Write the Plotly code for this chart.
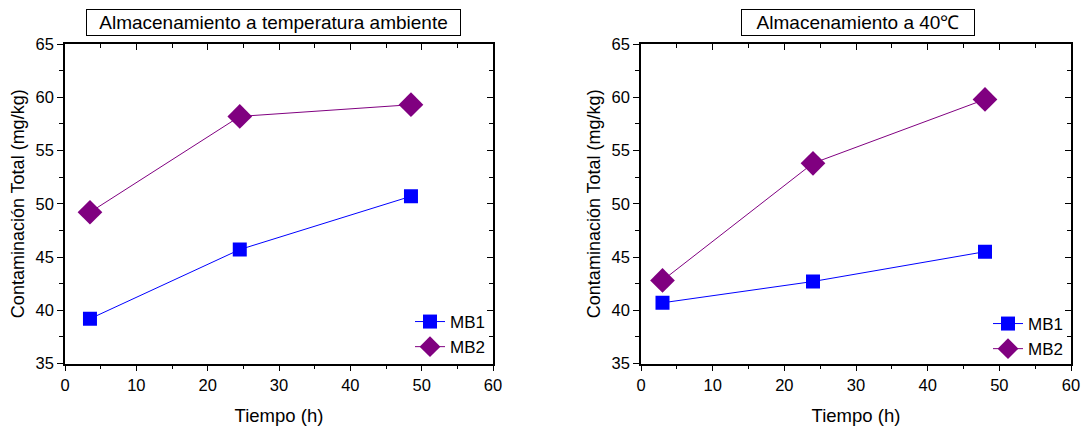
import plotly.graph_objects as go

# Data
t_amb = [3.5, 24.5, 48.5]
mb1_amb = [39.2, 45.7, 50.7]
mb2_amb = [49.2, 58.2, 59.3]

t_40 = [3, 24, 48]
mb1_40 = [40.7, 42.7, 45.5]
mb2_40 = [42.8, 53.8, 59.8]

titles = ["Almacenamiento a temperatura ambiente", "Almacenamiento a 40\u2103"]
x_title = "Tiempo (h)"
y_title = "Contaminación Total (mg/kg)"

W, H = 1086, 426
FONT = "Liberation Sans, Arial, sans-serif"
BLUE = "#0000FF"
PURPLE = "#800080"


def px(v):
    return v / W


def py(v):
    return 1 - v / H


fig = go.Figure()

dom_x = [[px(65), px(493)], [px(641), px(1071)]]
dom_y = [py(363.5), py(44)]

series = [(t_amb, mb1_amb, mb2_amb), (t_40, mb1_40, mb2_40)]
for i, (t, m1, m2) in enumerate(series):
    xa = "x" if i == 0 else "x2"
    ya = "y" if i == 0 else "y2"
    leg = "legend" if i == 0 else "legend2"
    fig.add_trace(go.Scatter(x=t, y=m1, mode="lines+markers", name="MB1",
                             line=dict(color=BLUE, width=1),
                             marker=dict(symbol="square", size=14, color=BLUE),
                             xaxis=xa, yaxis=ya, legend=leg))
    fig.add_trace(go.Scatter(x=t, y=m2, mode="lines+markers", name="MB2",
                             line=dict(color=PURPLE, width=1),
                             marker=dict(symbol="diamond", size=19, color=PURPLE),
                             xaxis=xa, yaxis=ya, legend=leg))

common_tick = dict(tickfont=dict(family=FONT, size=16.5, color="black"),
                   linecolor="black", linewidth=1.5, showgrid=False, zeroline=False,
                   ticks="outside", ticklen=6, tickwidth=1.2, tickcolor="black",
                   automargin=False, ticklabeloverflow="allow")

layout = dict(width=W, height=H, plot_bgcolor="white", paper_bgcolor="white",
              margin=dict(l=0, r=0, t=0, b=0, autoexpand=False),
              font=dict(family=FONT, color="black"))

for i in range(2):
    sfx = "" if i == 0 else "2"
    layout["xaxis" + sfx] = dict(domain=dom_x[i], range=[0, 60], dtick=10, anchor="y" + sfx,
                                 title=dict(text=x_title, font=dict(family=FONT, size=18.5), standoff=16),
                                 minor=dict(dtick=5, ticks="outside", ticklen=4, tickwidth=1.2, tickcolor="black"),
                                 **common_tick)
    layout["yaxis" + sfx] = dict(domain=dom_y, range=[35, 65], dtick=5, anchor="x" + sfx,
                                 title=dict(text=y_title, font=dict(family=FONT, size=18), standoff=6),
                                 minor=dict(dtick=2.5, ticks="outside", ticklen=4, tickwidth=1.2, tickcolor="black"),
                                 **common_tick)
    # mirrored frame with inward ticks
    xo = "xaxis" + str(3 + i)
    yo = "yaxis" + str(3 + i)
    layout[xo] = dict(domain=dom_x[i], range=[0, 60], dtick=10, side="top",
                      overlaying="x" + sfx, anchor="y" + sfx, showticklabels=False,
                      linecolor="black", linewidth=1.5, showgrid=False, zeroline=False,
                      ticks="inside", ticklen=6, tickwidth=1.2, tickcolor="black", automargin=False,
                      minor=dict(dtick=5, ticks="inside", ticklen=4, tickwidth=1.2, tickcolor="black"))
    layout[yo] = dict(domain=dom_y, range=[35, 65], dtick=5, side="right",
                      overlaying="y" + sfx, anchor="x" + sfx, showticklabels=False,
                      linecolor="black", linewidth=1.5, showgrid=False, zeroline=False,
                      ticks="inside", ticklen=6, tickwidth=1.2, tickcolor="black", automargin=False,
                      minor=dict(dtick=2.5, ticks="inside", ticklen=4, tickwidth=1.2, tickcolor="black"))

for i, (t, _, _) in enumerate(series):
    fig.add_trace(go.Scatter(x=[None], y=[None], xaxis="x" + str(3 + i), yaxis="y" + str(3 + i),
                             showlegend=False, hoverinfo="skip"))

layout["legend"] = dict(x=px(490), y=py(304), xanchor="right", yanchor="top",
                        bgcolor="rgba(0,0,0,0)", font=dict(family=FONT, size=17),
                        tracegroupgap=0, itemwidth=30)
layout["legend2"] = dict(x=px(1068), y=py(306), xanchor="right", yanchor="top",
                         bgcolor="rgba(0,0,0,0)", font=dict(family=FONT, size=17),
                         tracegroupgap=0, itemwidth=30)

fig.update_layout(**layout)

boxes = [(86, 461), (741, 975)]
for i in range(2):
    x0, x1 = boxes[i]
    fig.add_annotation(x=px((x0 + x1) / 2), y=py(22.5), xref="paper", yref="paper",
                       xanchor="center", yanchor="middle",
                       text=titles[i], showarrow=False, width=x1 - x0 - 4, height=23,
                       font=dict(family=FONT, size=19, color="black"),
                       bordercolor="black", borderwidth=1, borderpad=1, bgcolor="white")

fig.write_html("out.html", config={"displayModeBar": False},
               post_script="document.body.style.margin='0';")
